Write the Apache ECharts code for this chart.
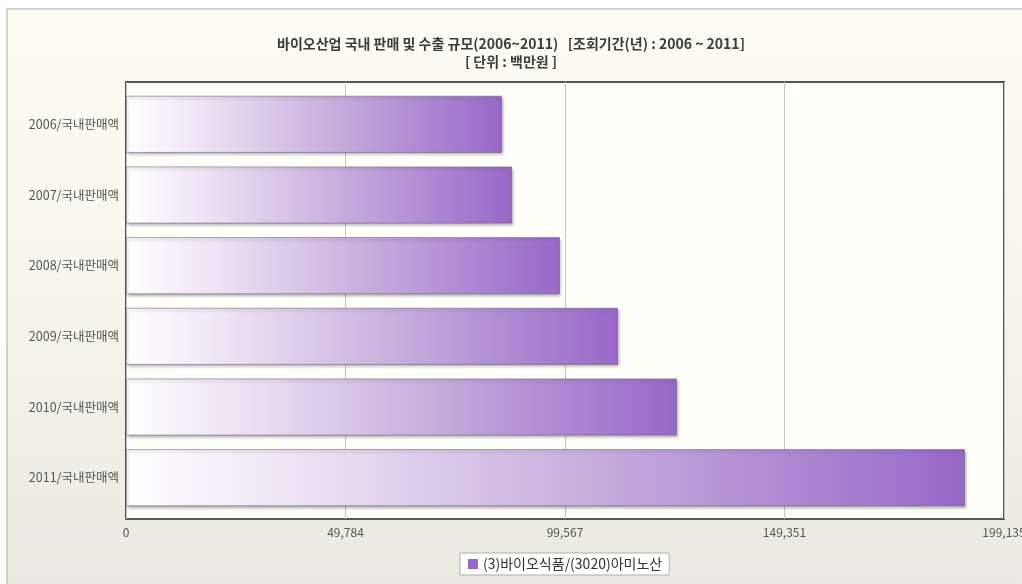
<!DOCTYPE html>
<html>
<head>
<meta charset="utf-8">
<script src="https://cdn.jsdelivr.net/npm/echarts@6/dist/echarts.min.js"></script>
<style>
  html, body { margin: 0; padding: 0; background: #ffffff; }
  #chart { width: 1022px; height: 584px; }
</style>
</head>
<body>
<div id="chart"></div>
<script>
// Domestic sales of the bio-industry amino-acid segment, million KRW
const categories = ['2006/국내판매액', '2007/국내판매액', '2008/국내판매액', '2009/국내판매액', '2010/국내판매액', '2011/국내판매액'];
const salesValues = [85280, 87550, 98430, 111590, 124970, 190290];
const seriesName = '(3)바이오식품/(3020)아미노산';
const axisMax = 199135;
const axisInterval = 49783.75;
const tickLabels = ['0', '49,784', '99,567', '149,351', '199,135'];
const titleLines = ['바이오산업 국내 판매 및 수출 규모(2006~2011)   [조회기간(년) : 2006 ~ 2011]', '[ 단위 : 백만원 ]'];

const FONT = '"Noto Sans CJK KR", "Noto Sans", sans-serif';
const chart = echarts.init(document.getElementById('chart'), null, { renderer: 'canvas' });

chart.setOption({
  backgroundColor: '#ffffff',
  animation: false,
  graphic: [{
    type: 'rect',
    z: -10,
    shape: { x: 7, y: 9, width: 1030, height: 590 },
    style: {
      fill: new echarts.graphic.LinearGradient(0, 0, 0, 1, [
        { offset: 0, color: '#fdfdf3' },
        { offset: 0.45, color: '#f6f6ec' },
        { offset: 1, color: '#e9e9e1' }
      ]),
      stroke: '#c4c4b8',
      lineWidth: 1.5
    }
  }],
  title: {
    text: titleLines.join('\n'),
    left: 'center',
    top: 30,
    textStyle: {
      fontFamily: FONT,
      fontSize: 14,
      fontWeight: 'bold',
      color: '#3c3c3c',
      lineHeight: 18
    }
  },
  legend: {
    data: [{ name: seriesName, itemStyle: { color: '#9966cc', borderWidth: 0, shadowBlur: 0, shadowOffsetX: 0, shadowOffsetY: 0 } }],
    left: 460,
    top: 553,
    icon: 'rect',
    itemWidth: 10,
    itemHeight: 10,
    itemGap: 6,
    backgroundColor: '#ffffff',
    borderColor: '#b0b0a8',
    borderWidth: 1,
    padding: [4, 7, 4, 8],
    textStyle: { fontFamily: FONT, fontSize: 14, color: '#333333' }
  },
  grid: [{
    // framed plot area with the value grid lines
    left: 126,
    right: 18,
    top: 82,
    bottom: 65,
    show: true,
    backgroundColor: '#fffffa',
    borderColor: '#555555',
    borderWidth: 2,
    outerBoundsMode: 'none'
  }, {
    // band in which the categories and bars are laid out
    left: 126,
    right: 18,
    top: 89,
    bottom: 71,
    outerBoundsMode: 'none'
  }],
  xAxis: [{
    gridIndex: 0,
    type: 'value',
    min: 0,
    max: axisMax,
    interval: axisInterval,
    axisLine: { show: false },
    axisTick: { show: false },
    splitLine: { show: true, lineStyle: { color: '#c4c4c4', width: 1 } },
    axisLabel: {
      fontFamily: FONT,
      fontSize: 12,
      color: '#555555',
      margin: 7,
      hideOverlap: false,
      formatter: function (v) {
        return tickLabels[Math.round(v / axisInterval)] || '';
      }
    }
  }, {
    gridIndex: 1,
    type: 'value',
    min: 0,
    max: axisMax,
    interval: axisInterval,
    show: false,
    splitLine: { show: false }
  }],
  yAxis: [{
    gridIndex: 0,
    type: 'category',
    data: categories,
    show: false
  }, {
    gridIndex: 1,
    type: 'category',
    data: categories,
    inverse: true,
    axisLine: { show: false },
    axisTick: { show: false },
    splitLine: { show: false },
    axisLabel: { fontFamily: FONT, fontSize: 12.5, color: '#555555', margin: 7 }
  }],
  series: [{
    name: seriesName,
    type: 'bar',
    xAxisIndex: 1,
    yAxisIndex: 1,
    data: salesValues,
    barCategoryGap: '19%',
    itemStyle: {
      color: new echarts.graphic.LinearGradient(0, 0, 1, 0, [
        { offset: 0, color: '#ffffff' },
        { offset: 0.2, color: '#ede4f4' },
        { offset: 0.55, color: '#c7aede' },
        { offset: 1, color: '#9868c8' }
      ]),
      borderColor: 'rgba(110,100,120,0.55)',
      borderWidth: 1,
      shadowColor: 'rgba(60,50,70,0.45)',
      shadowBlur: 3,
      shadowOffsetX: 1,
      shadowOffsetY: 2
    },
    emphasis: { disabled: true }
  }]
});
</script>
</body>
</html>
